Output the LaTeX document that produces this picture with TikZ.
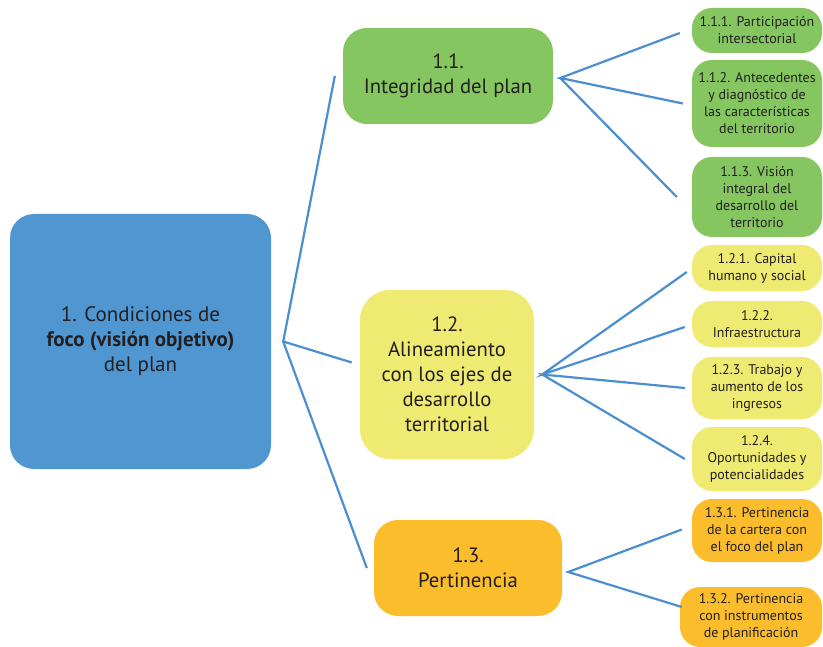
\documentclass[tikz,border=0pt]{standalone}
\usepackage{fontspec}
\setmainfont{PT Sans}
\usepackage{xcolor}
\usepackage{tikz}
\usetikzlibrary{calc}
\definecolor{ink}{HTML}{231F20}
\definecolor{rootblue}{HTML}{5097D1}
\definecolor{leafgreen}{HTML}{85C660}
\definecolor{leafyellow}{HTML}{EFEA71}
\definecolor{leaforange}{HTML}{FBBD2C}
\definecolor{wire}{HTML}{4B8FD0}
\tikzset{
  box/.style={rectangle, rounded corners=24pt, inner sep=0pt, align=center, text=ink},
  rootbox/.style={box, fill=rootblue, minimum width=261pt, minimum height=255pt,
    rounded corners=24pt, font=\fontsize{21}{25}\selectfont},
  midbox/.style={box, font=\fontsize{20.7}{25}\selectfont},
  leafbox/.style={box, minimum width=130pt, rounded corners=20pt,
    font=\fontsize{14}{17}\selectfont},
  link/.style={draw=wire, line width=2.2pt}
}

\begin{document}
\begin{tikzpicture}[x=1pt, y=-1pt]
\useasboundingbox[fill=white] (0,0) rectangle (823,647);

\node[rootbox] (root) at (140.5,341.5) {1. Condiciones de\\\textbf{foco (visión objetivo)}\\del plan};

\node[midbox, fill=leafgreen, minimum width=210pt, minimum height=96pt] (b11) at (448,76) {1.1.\\Integridad del plan};
\node[midbox, fill=leafyellow, minimum width=174pt, minimum height=169pt, rounded corners=30pt] (b12) at (447,374.5)
  {1.2.\\Alineamiento\\con los ejes de\\desarrollo\\territorial};
\node[midbox, fill=leaforange, minimum width=188pt, minimum height=96pt] (b13) at (468,568) {1.3.\\Pertinencia};

\node[leafbox, fill=leafgreen, minimum height=45pt] (l111) at (757,30.5) {1.1.1. Participación\\intersectorial};
\node[leafbox, fill=leafgreen, minimum height=87pt] (l112) at (757,103.5)
  {1.1.2. Antecedentes\\y diagnóstico de\\las características\\del territorio};
\node[leafbox, fill=leafgreen, minimum height=80pt] (l113) at (757,197)
  {1.1.3. Visión\\integral del\\desarrollo del\\territorio};

\node[leafbox, fill=leafyellow, minimum height=46pt] (l121) at (757,268) {1.2.1. Capital\\humano y social};
\node[leafbox, fill=leafyellow, minimum height=46pt] (l122) at (757,324) {1.2.2.\\Infraestructura};
\node[leafbox, fill=leafyellow, minimum height=62pt] (l123) at (757,388) {1.2.3. Trabajo y\\aumento de los\\ingresos};
\node[leafbox, fill=leafyellow, minimum height=64pt] (l124) at (757,459) {1.2.4.\\Oportunidades y\\potencialidades};

\node[leafbox, fill=leaforange, minimum height=63pt] (l131) at (757,530.5)
  {1.3.1. Pertinencia\\de la cartera con\\el foco del plan};
\node[leafbox, fill=leaforange, minimum width=142pt, minimum height=60pt] (l132) at (751,617)
  {1.3.2. Pertinencia\\con instrumentos\\de planificación};

\coordinate (f1) at ($(root.east)+(12,0)$);
\coordinate (f11) at ($(b11.east)+(7,2)$);
\coordinate (f12) at ($(b12.east)+(8,0)$);
\coordinate (f13) at ($(b13.east)+(6,4)$);

\draw[link] ($(b11.west)+(-8,0)$) -- (f1) -- ($(b12.west)+(-8,-12)$);
\draw[link] (f1) -- ($(b13.west)+(-7,0)$);

\draw[link] ($(l111.west)+(-12,2.5)$) -- (f11) -- ($(l112.west)+(-9,0)$);
\draw[link] (f11) -- ($(l113.west)+(-15,0)$);

\draw[link] ($(l121.west)+(-5,4)$) -- (f12) -- ($(l122.west)+(-7,3)$);
\draw[link] ($(l123.west)+(-7,0)$) -- (f12) -- ($(l124.west)+(-7,0)$);

\draw[link] ($(l131.west)+(-10,-1)$) -- (f13) -- ($(l132.west)+(2,-10)$);
\end{tikzpicture}
\end{document}
